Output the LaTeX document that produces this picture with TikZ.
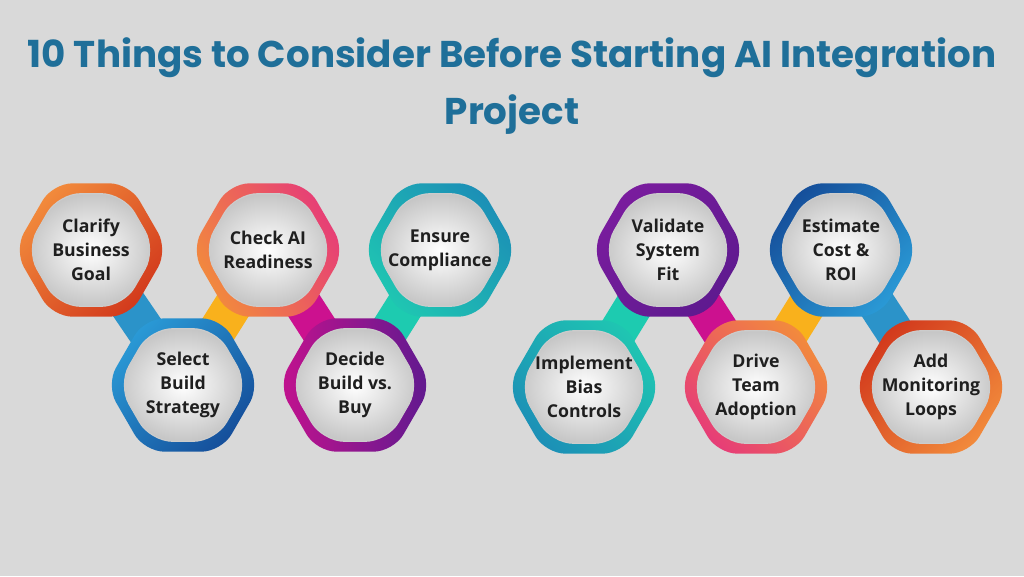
\documentclass[tikz,border=0pt]{standalone}
\usepackage{fontspec}
\setmainfont{Open Sans}
\newfontfamily\poppins{Poppins}
\usepackage{xcolor}
\definecolor{canvasgray}{HTML}{D9D9D9}
\definecolor{titleblue}{HTML}{1F6F99}
\definecolor{barblue}{HTML}{2B93C9}
\definecolor{baryellow}{HTML}{F9B11C}
\definecolor{barmagenta}{HTML}{CC118F}
\definecolor{barteal}{HTML}{1DCBB0}
\definecolor{ringorange}{HTML}{F28B3C}
\definecolor{ringred}{HTML}{D2391C}
\definecolor{ringpink}{HTML}{E63C78}
\definecolor{ringteal}{HTML}{1FC6B2}
\definecolor{ringsea}{HTML}{1C8FB6}
\definecolor{ringsky}{HTML}{2A9AD6}
\definecolor{ringnavy}{HTML}{154E9A}
\definecolor{ringmagenta}{HTML}{C3128E}
\definecolor{ringpurple}{HTML}{5E1A8F}
\definecolor{ringviolet}{HTML}{7A1C9E}
\usepackage{tikz}
\usetikzlibrary{shapes.geometric}
\pgfdeclarelayer{canvas}
\pgfdeclarelayer{bars}
\pgfsetlayers{canvas,bars,main}
\tikzset{
  ring/.style n args={3}{regular polygon,regular polygon sides=6,minimum size=38.5mm,
                   rounded corners=5mm,inner sep=0pt,top color=#1,bottom color=#2,shading angle=#3},
  core/.style    ={regular polygon,regular polygon sides=6,minimum size=32.5mm,rounded corners=5.5mm,
                   inner sep=0pt,shading=radial,inner color=white,outer color=gray!45,
                   draw=gray!40,line width=0.8pt},
  caption/.style ={align=center,font=\bfseries\fontsize{12.6}{17.2}\selectfont,text=black!88},
  bar/.style     ={line width=9.5mm},
}

\begin{document}
\begin{tikzpicture}[x=0.25mm,y=-0.25mm]
  \begin{pgfonlayer}{canvas}
    \fill[canvasgray] (0,0) rectangle (1024,576);
  \end{pgfonlayer}
  \node[align=center,text=titleblue,font=\poppins\bfseries\fontsize{26.5}{40}\selectfont] (title) at (512,86)
    {10 Things to Consider Before Starting AI Integration\\Project};
  % left group
  \node[ring={ringorange}{ringred}{45}] (clarify) at (91,250) {};
  \node[ring={ringsky}{ringnavy}{45}] (select) at (183,385) {};
  \node[ring={ringpink}{ringorange}{-60}] (check) at (268,250) {};
  \node[ring={ringmagenta}{ringpurple}{90}] (decide) at (355,385) {};
  \node[ring={ringsea}{ringteal}{-45}] (ensure) at (440,250) {};
  % right group
  \node[ring={ringviolet}{ringpurple}{45}] (validate) at (668,250) {};
  \node[ring={ringteal}{ringsea}{-45}] (implement) at (584,387) {};
  \node[ring={ringorange}{ringpink}{-45}] (drive) at (756,387) {};
  \node[ring={ringnavy}{ringsky}{45}] (estimate) at (841,250) {};
  \node[ring={ringred}{ringorange}{45}] (addmon) at (931,387) {};
  \foreach \n in {clarify,select,check,decide,ensure,validate,implement,drive,estimate,addmon}
    {\node[core] at (\n) {};}
  \node[caption] at (clarify) {Clarify\\Business\\Goal};
  \node[caption] at (select) {Select\\Build\\Strategy};
  \node[caption] at (check) {Check AI\\Readiness};
  \node[caption] at (decide) {Decide\\Build vs.\\Buy};
  \node[caption] at (ensure) {Ensure\\Compliance};
  \node[caption] at (validate) {Validate\\System\\Fit};
  \node[caption] at (implement) {Implement\\Bias\\Controls};
  \node[caption] at (drive) {Drive\\Team\\Adoption};
  \node[caption] at (estimate) {Estimate\\Cost \&\\ROI};
  \node[caption] at (addmon) {Add\\Monitoring\\Loops};
  \begin{pgfonlayer}{bars}
    \foreach \a/\b/\c in {clarify/select/barblue,select/check/baryellow,check/decide/barmagenta,
                          decide/ensure/barteal,validate/implement/barteal,validate/drive/barmagenta,
                          drive/estimate/baryellow,estimate/addmon/barblue}
      {\draw[bar,draw=\c] (\a.center) -- (\b.center);}
  \end{pgfonlayer}
\end{tikzpicture}
\end{document}
